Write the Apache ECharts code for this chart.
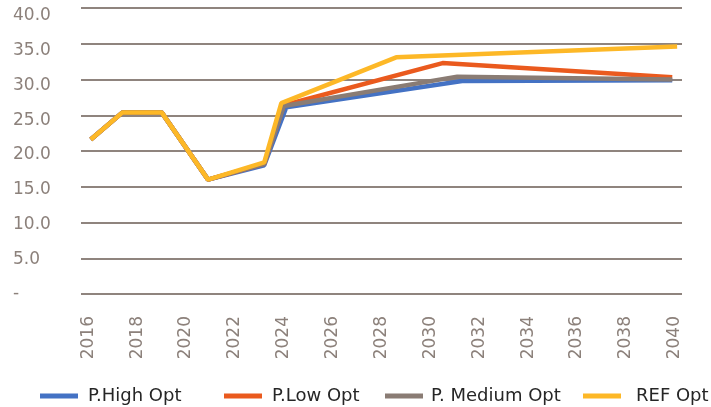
<!DOCTYPE html>
<html>
<head>
<meta charset="utf-8">
<script src="https://cdn.jsdelivr.net/npm/echarts@6/dist/echarts.min.js"></script>
<style>
  html, body { margin: 0; padding: 0; background: #fff; }
  #chart { width: 711px; height: 407px; }
</style>
</head>
<body>
<div id="chart"></div>
<script>
// tick labels on the x axis (every second year)
const yearTicks = [2016, 2018, 2020, 2022, 2024, 2026, 2028, 2030, 2032, 2034, 2036, 2038, 2040]

// series values (x = year position, y = value)
const highX = [2016.1, 2017.4, 2019.0, 2020.9, 2023.2, 2024.1, 2031.3, 2039.9]
const highY = [21.6, 25.4, 25.4, 16.0, 18.0, 26.1, 29.8, 29.9]
const lowX = [2016.1, 2017.4, 2019.0, 2020.9, 2023.2, 2024.0, 2030.5, 2039.9]
const lowY = [21.6, 25.4, 25.4, 16.0, 18.2, 26.4, 32.3, 30.3]
const medX = [2016.1, 2017.4, 2019.0, 2020.9, 2023.2, 2024.0, 2031.1, 2039.9]
const medY = [21.6, 25.4, 25.4, 16.0, 18.2, 26.3, 30.4, 30.0]
const refX = [2016.1, 2017.4, 2019.0, 2020.9, 2023.2, 2023.9, 2028.6, 2040.1]
const refY = [21.6, 25.4, 25.4, 16.0, 18.4, 26.7, 33.1, 34.6]

const names = ['P.High Opt', 'P.Low Opt', 'P. Medium Opt', 'REF Opt']
const colors = ['#4472C4', '#EA5A1E', '#8A7C74', '#FDB827']

const pairs = (xs, ys) => xs.map((x, i) => [x, ys[i]])
const seriesData = [pairs(highX, highY), pairs(lowX, lowY), pairs(medX, medY), pairs(refX, refY)]

const font = 'DejaVu Sans'
const labelColor = '#8C817B'
// legend placement, like the original (fixed columns)
const legendLeft = [35, 219, 380, 578]
const legendTextGap = [5, 5, 3, 10]

let option = {
  animation: false,
  grid: { left: 81, right: 29, top: 8, bottom: 113, containLabel: false, outerBoundsMode: 'none' },
  legend: names.map((n, i) => ({
    data: [n],
    left: legendLeft[i],
    top: 382,
    icon: 'rect',
    itemWidth: 38,
    itemHeight: 5,
    textStyle: { fontFamily: font, fontSize: 18, color: '#262626', padding: [0, 0, 0, legendTextGap[i]] }
  })),
  xAxis: {
    type: 'value',
    min: 2015.7,
    max: 2040.3,
    axisLine: { show: false },
    axisTick: { show: false },
    splitLine: { show: false },
    axisLabel: {
      customValues: yearTicks,
      rotate: 90,
      margin: 22,
      color: labelColor,
      fontFamily: font,
      fontSize: 17,
      formatter: v => String(v)
    }
  },
  yAxis: [{
    // gridlines
    type: 'value',
    position: 'left',
    min: 0,
    max: 40,
    interval: 5,
    axisLine: { show: false },
    axisTick: { show: false },
    axisLabel: { show: false },
    splitLine: { lineStyle: { color: '#8F847E', width: 2 } }
  }, {
    // labels sit a little off the gridlines in the original
    type: 'value',
    position: 'left',
    offset: 0,
    min: 0,
    max: 41.15,
    interval: 5,
    axisLine: { show: false },
    axisTick: { show: false },
    splitLine: { show: false },
    axisLabel: {
      align: 'left',
      margin: 68,
      showMaxLabel: false,
      color: labelColor,
      fontFamily: font,
      fontSize: 17,
      formatter: v => (v % 5 !== 0 || v > 40) ? '' : (v === 0 ? '-' : v.toFixed(1))
    }
  }],
  series: names.map((n, i) => ({
    name: n,
    type: 'line',
    yAxisIndex: 0,
    data: seriesData[i],
    symbol: 'none',
    color: colors[i],
    lineStyle: { width: 4.5, color: colors[i] }
  }))
}

const chart = echarts.init(document.getElementById('chart'))
chart.setOption(option)
</script>
</body>
</html>
